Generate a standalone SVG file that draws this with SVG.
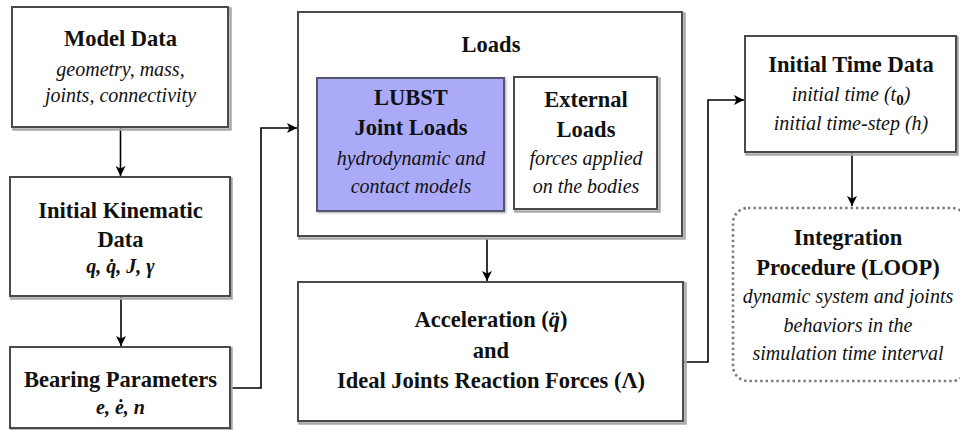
<svg xmlns="http://www.w3.org/2000/svg" width="960" height="430" viewBox="0 0 960 430">
  <style>
    .shadow { fill: none; stroke: #a8a8a8; stroke-width: 2.5; }
    .box { fill: #ffffff; stroke: #4a4a4a; stroke-width: 2; }
    .lubst { fill: #aaaaf8; stroke: #555570; stroke-width: 2; }
    .loop { fill: #ffffff; stroke: #7a7a7a; stroke-width: 2.6; stroke-dasharray: 2.4 3; }
    text { font-family: "Times New Roman", "Liberation Serif", "DejaVu Serif", serif; text-anchor: middle; fill: #111111; }
    .h { font-size: 22.5px; font-weight: bold; }
    .i { font-size: 20px; font-style: italic; }
    .m { font-size: 20px; font-style: italic; font-weight: bold; }
    .wire { fill: none; stroke: #000000; stroke-width: 1.6; }
  </style>
  <defs>
    <marker id="arrow" viewBox="0 0 10 10" refX="10" refY="5" markerWidth="10" markerHeight="10" markerUnits="userSpaceOnUse" orient="auto">
      <path d="M0,0 L10,5 L0,10 L2.5,5 Z" fill="#000000"/>
    </marker>
  </defs>

  <rect width="960" height="430" fill="#ffffff"/>

  <!-- connectors -->
  <g id="connectors">
    <line class="wire" x1="120.5" y1="128" x2="120.5" y2="176" marker-end="url(#arrow)"/>
    <line class="wire" x1="121" y1="297" x2="121" y2="346" marker-end="url(#arrow)"/>
    <path class="wire" d="M231,388 H261 V128 H297" marker-end="url(#arrow)"/>
    <line class="wire" x1="487" y1="238" x2="487" y2="281" marker-end="url(#arrow)"/>
    <path class="wire" d="M684,362 H708 V100 H744" marker-end="url(#arrow)"/>
    <line class="wire" x1="852" y1="153" x2="852" y2="206" marker-end="url(#arrow)"/>
  </g>

  <!-- Model Data -->
  <g id="model-data">
    <rect class="shadow" x="13.5" y="8.5" width="217" height="121"/>
    <rect class="box" x="12" y="7" width="216" height="120"/>
    <text class="h" x="120.5" y="46">Model Data</text>
    <text class="i" x="120.5" y="76">geometry, mass,</text>
    <text class="i" x="120.5" y="102">joints, connectivity</text>
  </g>

  <!-- Initial Kinematic Data -->
  <g id="initial-kinematic">
    <rect class="shadow" x="11.5" y="178.5" width="220" height="120"/>
    <rect class="box" x="10" y="177" width="220" height="119"/>
    <text class="h" x="120.5" y="218">Initial Kinematic</text>
    <text class="h" x="120.5" y="247">Data</text>
    <text class="m" x="120.5" y="273">q, q̇, J, γ</text>
  </g>

  <!-- Bearing Parameters -->
  <g id="bearing-parameters">
    <rect class="shadow" x="11.5" y="348.5" width="220" height="82"/>
    <rect class="box" x="10" y="347" width="220" height="81"/>
    <text class="h" x="120.5" y="387">Bearing Parameters</text>
    <text class="m" x="120.5" y="414">e, ė, n</text>
  </g>

  <!-- Loads (container) -->
  <g id="loads">
    <rect class="shadow" x="299.5" y="13.5" width="385" height="225"/>
    <rect class="box" x="298" y="12" width="384" height="224"/>
    <text class="h" x="491" y="52">Loads</text>
  </g>

  <!-- LUBST Joint Loads -->
  <g id="lubst-joint-loads">
    <rect class="lubst" x="317" y="78" width="187" height="133" style="filter: drop-shadow(1px 1px 1px rgba(0,0,0,0.35))"/>
    <text class="h" x="411" y="105">LUBST</text>
    <text class="h" x="411" y="135">Joint Loads</text>
    <text class="i" x="411" y="165">hydrodynamic and</text>
    <text class="i" x="411" y="193">contact models</text>
  </g>

  <!-- External Loads -->
  <g id="external-loads">
    <rect class="shadow" x="515.5" y="78.5" width="144" height="133"/>
    <rect class="box" x="514" y="77" width="143" height="132"/>
    <text class="h" x="586" y="107">External</text>
    <text class="h" x="586" y="137">Loads</text>
    <text class="i" x="586" y="165">forces applied</text>
    <text class="i" x="586" y="193">on the bodies</text>
  </g>

  <!-- Acceleration and reaction forces -->
  <g id="acceleration">
    <rect class="shadow" x="299.5" y="283.5" width="386" height="140"/>
    <rect class="box" x="298" y="282" width="385" height="139"/>
    <text class="h" x="491" y="327">Acceleration (<tspan font-style="italic">q̈</tspan>)</text>
    <text class="h" x="491" y="358">and</text>
    <text class="h" x="491" y="388">Ideal Joints Reaction Forces (Λ)</text>
  </g>

  <!-- Initial Time Data -->
  <g id="initial-time-data">
    <rect class="shadow" x="746.5" y="37.5" width="211" height="117"/>
    <rect class="box" x="745" y="36" width="211" height="116"/>
    <text class="h" x="851" y="72">Initial Time Data</text>
    <text class="i" x="851" y="101">initial time (t<tspan font-size="15" font-weight="bold" font-style="normal" dy="4">0</tspan><tspan dy="-4">)</tspan></text>
    <text class="i" x="851" y="130">initial time-step (h)</text>
  </g>

  <!-- Integration Procedure -->
  <g id="integration-procedure">
    <rect class="loop" x="733" y="208" width="234" height="173" rx="15" ry="15"/>
    <text class="h" x="848" y="245">Integration</text>
    <text class="h" x="848" y="275">Procedure (LOOP)</text>
    <text class="i" x="848" y="303">dynamic system and joints</text>
    <text class="i" x="848" y="332">behaviors in the</text>
    <text class="i" x="848" y="360">simulation time interval</text>
  </g>
</svg>
